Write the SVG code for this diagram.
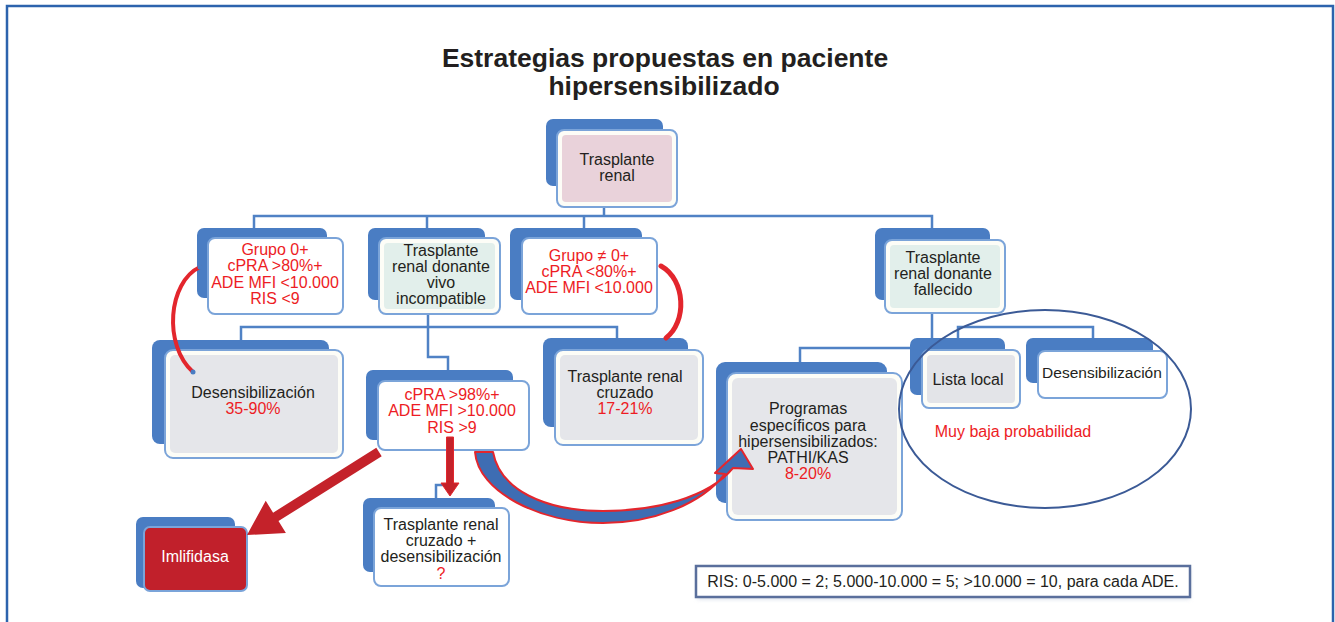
<svg xmlns="http://www.w3.org/2000/svg" width="1335" height="622" viewBox="0 0 1335 622">
<defs>
<style>
.bk{fill:#4a7dc3}
.fr{stroke:#7ba4d9;stroke-width:2;fill:#fdfdf7}
.frw{stroke:#7ba4d9;stroke-width:2;fill:#ffffff}
.t{font-family:"Liberation Sans",Arial,sans-serif;font-size:16px;fill:#231f20;text-anchor:middle}
.r{fill:#ed1c24}
.cn{fill:none;stroke:#5082c5;stroke-width:2.5}
.arc{fill:none;stroke:#e3262d;stroke-linecap:round}
</style>
<filter id="sh" x="-5%" y="-30%" width="110%" height="160%">
<feGaussianBlur stdDeviation="2"/>
</filter>
</defs>
<rect x="0" y="0" width="1335" height="622" fill="#ffffff"/>
<rect x="7" y="6" width="1326" height="700" fill="none" stroke="#2c63ad" stroke-width="2.5"/>

<g id="title">
<text x="665" y="67" style="font-family:'Liberation Sans',Arial,sans-serif;font-size:26.5px;font-weight:bold;fill:#231f20;text-anchor:middle">Estrategias propuestas en paciente</text>
<text x="664" y="95" style="font-family:'Liberation Sans',Arial,sans-serif;font-size:26.5px;font-weight:bold;fill:#231f20;text-anchor:middle">hipersensibilizado</text>
</g>

<g id="connectors">
<path class="cn" d="M604,207 V216"/>
<path class="cn" d="M254,229 V216 H932 V229"/>
<path class="cn" d="M427,216 V229 M584,216 V229"/>
<path class="cn" d="M428,314 V357 H448 V371"/>
<path class="cn" d="M241,341 V327 H617 V339"/>
<path class="cn" d="M932,313 V348 H800 V363"/>
<path class="cn" d="M958,339 V327 H1093 V339"/>
<path class="cn" d="M450,450 V485 H436 V499"/>
</g>

<g id="n-root">
<rect class="bk" x="546" y="119" width="117" height="67" rx="7"/>
<rect class="fr" x="557" y="130" width="120" height="77" rx="7"/>
<rect x="562" y="135" width="110" height="67" rx="4" fill="#e9d2da"/>
<text class="t" x="617" y="165">Trasplante</text>
<text class="t" x="617" y="181">renal</text>
</g>

<g id="n-grupo0">
<rect class="bk" x="197" y="228" width="130" height="70" rx="7"/>
<rect class="frw" x="208" y="238" width="135" height="76" rx="7"/>
<text class="t r" x="275" y="255">Grupo 0+</text>
<text class="t r" x="275" y="271">cPRA &gt;80%+</text>
<text class="t r" x="275" y="288">ADE MFI &lt;10.000</text>
<text class="t r" x="275" y="304">RIS &lt;9</text>
</g>

<g id="n-vivo">
<rect class="bk" x="368" y="228" width="117" height="72" rx="7"/>
<rect class="fr" x="379" y="238" width="121" height="76" rx="7"/>
<rect x="384" y="243" width="111" height="66" rx="4" fill="#e2efeb"/>
<text class="t" x="441" y="256">Trasplante</text>
<text class="t" x="441" y="272">renal donante</text>
<text class="t" x="441" y="288">vivo</text>
<text class="t" x="441" y="304">incompatible</text>
</g>

<g id="n-grupone0">
<rect class="bk" x="510" y="228" width="132" height="72" rx="7"/>
<rect class="frw" x="522" y="238" width="135" height="76" rx="7"/>
<text class="t r" x="589" y="261">Grupo ≠ 0+</text>
<text class="t r" x="589" y="277">cPRA &lt;80%+</text>
<text class="t r" x="589" y="293">ADE MFI &lt;10.000</text>
</g>

<g id="n-fallecido">
<rect class="bk" x="875" y="228" width="115" height="72" rx="7"/>
<rect class="fr" x="885" y="240" width="120" height="73" rx="7"/>
<rect x="890" y="245" width="110" height="63" rx="4" fill="#e2efeb"/>
<text class="t" x="943" y="263">Trasplante</text>
<text class="t" x="943" y="279">renal donante</text>
<text class="t" x="943" y="295">fallecido</text>
</g>

<g id="n-desens1">
<rect class="bk" x="152" y="340" width="177" height="104" rx="8"/>
<rect class="fr" x="165" y="350" width="178" height="108" rx="8"/>
<rect x="170" y="355" width="168" height="98" rx="5" fill="#e5e6ea"/>
<text class="t" x="253" y="398">Desensibilización</text>
<text class="t r" x="253" y="414">35-90%</text>
</g>

<g id="n-cpra">
<rect class="bk" x="366" y="370" width="147" height="70" rx="7"/>
<rect class="frw" x="378" y="381" width="151" height="69" rx="7"/>
<text class="t r" x="452" y="400">cPRA &gt;98%+</text>
<text class="t r" x="452" y="416">ADE MFI &gt;10.000</text>
<text class="t r" x="452" y="433">RIS &gt;9</text>
</g>

<g id="n-cruzado">
<rect class="bk" x="543" y="338" width="145" height="89" rx="8"/>
<rect class="fr" x="555" y="350" width="148" height="95" rx="8"/>
<rect x="560" y="355" width="138" height="85" rx="5" fill="#e5e6ea"/>
<text class="t" x="625" y="382">Trasplante renal</text>
<text class="t" x="625" y="398">cruzado</text>
<text class="t r" x="625" y="414">17-21%</text>
</g>

<g id="n-programas">
<rect class="bk" x="716" y="362" width="171" height="141" rx="9"/>
<rect class="fr" x="727" y="373" width="175" height="147" rx="9"/>
<rect x="732" y="378" width="165" height="137" rx="6" fill="#e5e6ea"/>
<text class="t" x="808" y="414">Programas</text>
<text class="t" x="808" y="431">específicos para</text>
<text class="t" x="808" y="447">hipersensibilizados:</text>
<text class="t" x="808" y="463">PATHI/KAS</text>
<text class="t r" x="808" y="479">8-20%</text>
</g>

<g id="n-lista">
<rect class="bk" x="910" y="338" width="95" height="57" rx="7"/>
<rect class="fr" x="922" y="350" width="98" height="58" rx="7"/>
<rect x="927" y="355" width="88" height="48" rx="4" fill="#e3e4e8"/>
<text class="t" x="968" y="385">Lista local</text>
</g>

<g id="n-desens2">
<rect class="bk" x="1026" y="338" width="127" height="45" rx="7"/>
<rect class="frw" x="1038" y="351" width="129" height="47" rx="7"/>
<text class="t" x="1102" y="378" style="font-size:15.5px">Desensibilización</text>
</g>

<g id="n-cruzdes">
<rect class="bk" x="363" y="498" width="132" height="74" rx="7"/>
<rect class="frw" x="374" y="508" width="135" height="78" rx="7"/>
<text class="t" x="441" y="530">Trasplante renal</text>
<text class="t" x="441" y="546">cruzado +</text>
<text class="t" x="441" y="562">desensibilización</text>
<text class="t r" x="441" y="579">?</text>
</g>

<g id="n-imlifidasa">
<rect class="bk" x="136" y="517" width="99" height="71" rx="7"/>
<rect x="144" y="527" width="103" height="64" rx="6" fill="#c1202b" stroke="#7ba4d9" stroke-width="2"/>
<text class="t" x="195" y="562" style="fill:#ffffff">Imlifidasa</text>
</g>

<g id="probabilidad">
<ellipse cx="1045" cy="409" rx="146" ry="99" fill="none" stroke="#3b5a96" stroke-width="2"/>
<text class="t r" x="1013" y="437">Muy baja probabilidad</text>
</g>

<g id="arrows">
<path class="arc" d="M200,267 C168,282 163,345 193,372" stroke-width="4"/>
<circle cx="200" cy="267" r="2.5" fill="#4a7dc3"/>
<circle cx="193" cy="372" r="2.5" fill="#4a7dc3"/>
<path class="arc" d="M661,266 C686,280 687,322 666,338" stroke-width="5"/>
<polygon points="381.7,456.2 278.5,521.1 285.9,533 247,535 265.7,500.8 273.1,512.7 376.3,447.8" fill="#c4222a"/>
<polygon points="446.5,437 453.5,437 453.5,483 459,483 450,496 441,483 446.5,483" fill="#c4222a" stroke="#e3262d" stroke-width="1"/>
<path d="M475,452 C478,492 540,523 603,523 C652,523 700,505 725,474 L715,473 L741,449 L753,469 L733,468 C708,498 655,511 603,511 C545,511 500,490 493,452 Z" fill="#3e6db3" stroke="#e3262d" stroke-width="2" stroke-linejoin="round"/>
</g>

<g id="legend">
<rect x="697" y="568" width="493" height="31" fill="#b8c2d6" filter="url(#sh)" opacity="0.6"/>
<rect x="696" y="566" width="494" height="31" fill="#ffffff" stroke="#5a6f9c" stroke-width="2.5"/>
<text class="t" x="943" y="587">RIS: 0-5.000 = 2; 5.000-10.000 = 5; &gt;10.000 = 10, para cada ADE.</text>
</g>
</svg>
